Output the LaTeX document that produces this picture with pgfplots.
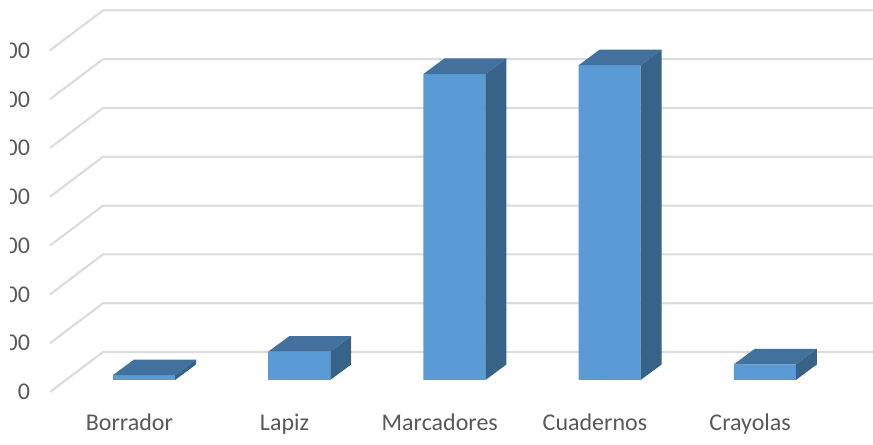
\documentclass[border=0pt]{standalone}
\usepackage{fontspec}
\setmainfont{Carlito}
\usepackage{pgfplots}
\pgfplotsset{compat=1.18}
\definecolor{barfront}{HTML}{5B9BD5}
\definecolor{bartop}{HTML}{41719C}
\definecolor{barside}{HTML}{376389}
\definecolor{gridgray}{HTML}{DCDCDC}
\definecolor{labelgray}{HTML}{595959}
\begin{document}
\begin{tikzpicture}
\path[use as bounding box] (0,0) rectangle (654.75pt,333.75pt);
\clip (0,0) rectangle (654.75pt,333.75pt);
\begin{axis}[
  at={(0,0)}, anchor=south west,
  scale only axis, width=654.75pt, height=333.75pt,
  xmin=-0.928, xmax=4.697, ymin=-133.2, ymax=778.7,
  axis line style={draw=none},
  tick style={draw=none},
  xtick={0,1,2,3,4},
  xticklabels={Borrador,Lapiz,Marcadores,Cuadernos,Crayolas},
  ytick={0,100,200,300,400,500,600,700},
  /pgf/number format/assume math mode=true,
  tick label style={font=\fontsize{18}{22}\selectfont, text=labelgray},
  xticklabel style={yshift=27pt, xshift=-11pt},
  yticklabel style={xshift=26pt, yshift=-9pt},
  grid line/.style={gridgray, line width=1.6pt},
]
% side wall and back wall lines
\addplot[grid line] coordinates {(-0.606,-24.6) (-0.264,57.4) (4.697,57.4)};
\addplot[grid line] coordinates {(-0.606,75.4) (-0.264,157.4) (4.697,157.4)};
\addplot[grid line] coordinates {(-0.606,175.4) (-0.264,257.4) (4.697,257.4)};
\addplot[grid line] coordinates {(-0.606,275.4) (-0.264,357.4) (4.697,357.4)};
\addplot[grid line] coordinates {(-0.606,375.4) (-0.264,457.4) (4.697,457.4)};
\addplot[grid line] coordinates {(-0.606,475.4) (-0.264,557.4) (4.697,557.4)};
\addplot[grid line] coordinates {(-0.606,575.4) (-0.264,657.4) (4.697,657.4)};
\addplot[grid line] coordinates {(-0.606,675.4) (-0.264,757.4) (4.697,757.4)};
% front faces
\addplot[ybar, bar width=0.4, bar shift=0pt, fill=barfront, draw=none] coordinates {
  (0,10) (1,58) (2,627) (3,645) (4,32)
};
% top faces
\addplot[fill=bartop, draw=none] coordinates {(-0.2,10) (0.2,10) (0.335,41.8) (-0.065,41.8) (-0.2,10)};
\addplot[fill=bartop, draw=none] coordinates {(0.8,58) (1.2,58) (1.335,89.8) (0.935,89.8) (0.8,58)};
\addplot[fill=bartop, draw=none] coordinates {(1.8,627) (2.2,627) (2.335,658.8) (1.935,658.8) (1.8,627)};
\addplot[fill=bartop, draw=none] coordinates {(2.8,645) (3.2,645) (3.335,676.8) (2.935,676.8) (2.8,645)};
\addplot[fill=bartop, draw=none] coordinates {(3.8,32) (4.2,32) (4.335,63.8) (3.935,63.8) (3.8,32)};
% side faces
\addplot[fill=barside, draw=none] coordinates {(0.2,0) (0.335,31.8) (0.335,41.8) (0.2,10) (0.2,0)};
\addplot[fill=barside, draw=none] coordinates {(1.2,0) (1.335,31.8) (1.335,89.8) (1.2,58) (1.2,0)};
\addplot[fill=barside, draw=none] coordinates {(2.2,0) (2.335,31.8) (2.335,658.8) (2.2,627) (2.2,0)};
\addplot[fill=barside, draw=none] coordinates {(3.2,0) (3.335,31.8) (3.335,676.8) (3.2,645) (3.2,0)};
\addplot[fill=barside, draw=none] coordinates {(4.2,0) (4.335,31.8) (4.335,63.8) (4.2,32) (4.2,0)};
\end{axis}
% the reference's value labels are cut off on the left
\fill[white] (0,0) rectangle (7.5pt,333.75pt);
\end{tikzpicture}
\end{document}
